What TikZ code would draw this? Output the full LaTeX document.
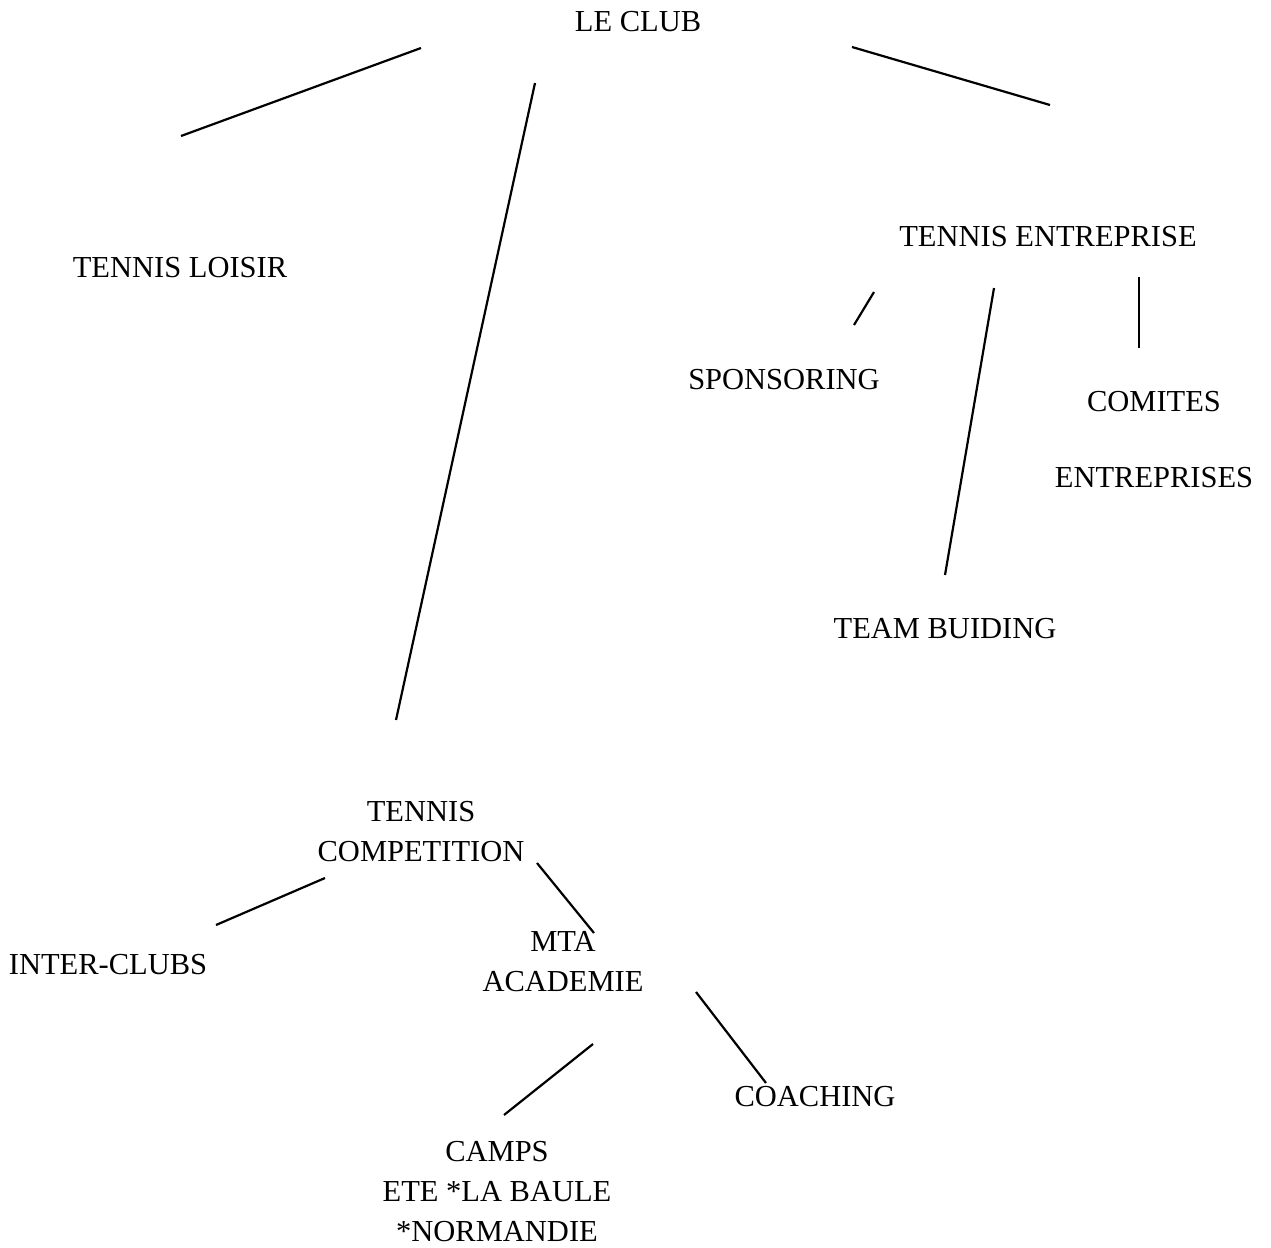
\documentclass[tikz,border=0pt]{standalone}
\usepackage{fontspec}
\setmainfont{Liberation Serif}
\begin{document}
\begin{tikzpicture}[x=1pt,y=-1pt,
  lbl/.style={font=\fontsize{30.5}{40}\selectfont, inner sep=0pt, align=center, anchor=center},
  conn/.style={line width=2.2pt, black}]
\useasboundingbox (0,0) rectangle (1271,1247);
% nodes
\node[lbl] (club) at (638,22) {LE CLUB};
\node[lbl] (loisir) at (180,268) {TENNIS LOISIR};
\node[lbl] (entreprise) at (1048,237) {TENNIS ENTREPRISE};
\node[lbl] (sponsoring) at (784,380) {SPONSORING};
\node[lbl] (comites) at (1154,440) {COMITES\\[36pt]ENTREPRISES};
\node[lbl] (team) at (945,629) {TEAM BUIDING};
\node[lbl] (competition) at (421,832) {TENNIS\\COMPETITION};
\node[lbl] (interclubs) at (108,965) {INTER-CLUBS};
\node[lbl] (mta) at (563,962) {MTA\\ACADEMIE};
\node[lbl] (coaching) at (815,1097) {COACHING};
\node[lbl] (camps) at (497,1192) {CAMPS\\ETE *LA BAULE\\*NORMANDIE};
% connector end points
\coordinate (a1) at (421,48);   \coordinate (a2) at (181,136);
\coordinate (b1) at (535,83);   \coordinate (b2) at (396,720);
\coordinate (c1) at (852,47);   \coordinate (c2) at (1050,105);
\coordinate (d1) at (874,292);  \coordinate (d2) at (854,325);
\coordinate (e1) at (994,288);  \coordinate (e2) at (945,575);
\coordinate (f1) at (1139,277); \coordinate (f2) at (1139,348);
\coordinate (g1) at (325,878);  \coordinate (g2) at (216,925);
\coordinate (h1) at (537,863);  \coordinate (h2) at (594,933);
\coordinate (i1) at (593,1044); \coordinate (i2) at (504,1115);
\coordinate (j1) at (696,992);  \coordinate (j2) at (766,1083);
% connectors
\draw[conn] (a1) -- (a2);
\draw[conn] (b1) -- (b2);
\draw[conn] (c1) -- (c2);
\draw[conn] (d1) -- (d2);
\draw[conn] (e1) -- (e2);
\draw[conn] (f1) -- (f2);
\draw[conn] (g1) -- (g2);
\draw[conn] (h1) -- (h2);
\draw[conn] (i1) -- (i2);
\draw[conn] (j1) -- (j2);
\end{tikzpicture}
\end{document}
